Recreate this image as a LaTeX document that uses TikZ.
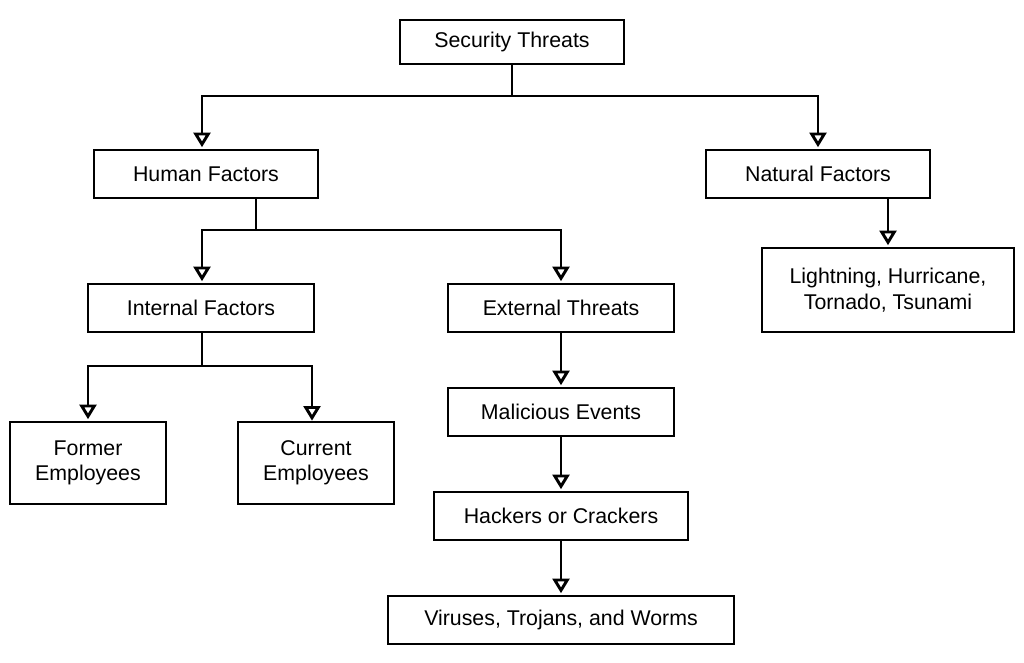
\documentclass[tikz,border=0pt]{standalone}
\usepackage{fontspec}
\setmainfont{Liberation Sans}
\usetikzlibrary{arrows.meta}
\begin{document}
\begin{tikzpicture}[x=0.75pt,y=-0.75pt,
  box/.style={draw,line width=2.2pt,font=\fontsize{16}{19}\selectfont,align=center,inner sep=0pt},
  conn/.style={line width=2.2pt,-{Triangle[length=11pt,width=11pt,angle'=60,open=false]},shorten >=1pt}]
\useasboundingbox (0,0) rectangle (1024,662);
\node[box,minimum width=224*0.75pt,minimum height=44*0.75pt] (st) at (512,42) {Security Threats};
\node[box,minimum width=224*0.75pt,minimum height=48*0.75pt] (hf) at (206,174) {Human Factors};
\node[box,minimum width=224*0.75pt,minimum height=48*0.75pt] (nf) at (818,174) {Natural Factors};
\node[box,minimum width=226*0.75pt,minimum height=48*0.75pt] (if) at (201,308) {Internal Factors};
\node[box,minimum width=226*0.75pt,minimum height=48*0.75pt] (et) at (561,308) {External Threats};
\node[box,minimum width=252*0.75pt,minimum height=84*0.75pt] (lh) at (888,290) {Lightning, Hurricane,\\Tornado, Tsunami};
\node[box,minimum width=156*0.75pt,minimum height=82*0.75pt] (fe) at (88,463) {Former\\Employees};
\node[box,minimum width=156*0.75pt,minimum height=82*0.75pt] (ce) at (316,463) {Current\\Employees};
\node[box,minimum width=226*0.75pt,minimum height=48*0.75pt] (me) at (561,412) {Malicious Events};
\node[box,minimum width=254*0.75pt,minimum height=48*0.75pt] (hc) at (561,516) {Hackers or Crackers};
\node[box,minimum width=346*0.75pt,minimum height=48*0.75pt] (vt) at (561,620) {Viruses, Trojans, and Worms};
\coordinate (j1) at (512,96);
\coordinate (j2) at (256,230);
\coordinate (j3) at (202,366);
\draw[line width=2.2pt] (st.south) -- (j1);
\draw[conn] (j1) -| (hf.north -| 202,0);
\draw[conn] (j1) -| (nf.north);
\draw[line width=2.2pt] (hf.south -| j2) -- (j2);
\draw[conn] (j2) -| (if.north -| j3);
\draw[conn] (j2) -| (et.north);
\draw[line width=2.2pt] (if.south -| j3) -- (j3);
\draw[conn] (j3) -| (fe.north);
\draw[conn] (j3) -| (312,422);
\draw[conn] (nf.south -| lh.north) -- (lh.north);
\draw[conn] (et) -- (me);
\draw[conn] (me) -- (hc);
\draw[conn] (hc) -- (vt);
\end{tikzpicture}
\end{document}
